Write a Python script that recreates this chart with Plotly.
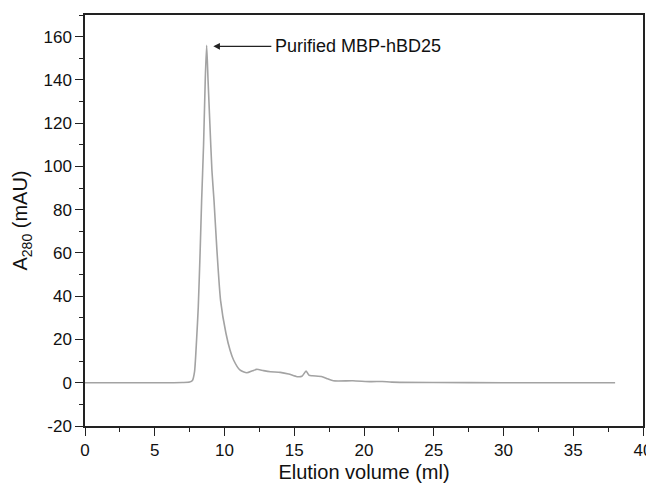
import plotly.graph_objects as go

# Elution volume (ml) and absorbance A280 (mAU)
volume = [0, 2, 4, 6, 7, 7.5, 7.7, 7.85, 8.0, 8.12, 8.25, 8.36, 8.5, 8.62, 8.72,
          8.82, 8.95, 9.1, 9.25, 9.45, 9.72, 10.1, 10.4, 10.65, 11.1, 11.6, 12.0,
          12.3, 12.8, 13.3, 14.0, 14.6, 15.2, 15.55, 15.85, 16.05, 16.3, 17.0,
          17.4, 17.8, 19.2, 20.5, 21.3, 22, 25, 30, 35, 38]
absorbance = [0, 0, 0, 0, 0.1, 0.3, 1, 5, 20, 35, 60, 84, 110, 140, 156,
              140, 120, 98, 84, 62, 38, 23, 15, 10.5, 5.9, 4.6, 5.5,
              6.2, 5.6, 5.1, 4.8, 4.0, 2.8, 3.0, 5.4, 3.5, 3.2, 2.8,
              1.8, 0.9, 0.9, 0.5, 0.6, 0.3, 0.1, 0, 0, 0]

peak_label = "Purified MBP-hBD25"
peak_x, peak_y = 9.2, 155.5
label_x = 13.5

x_ticks = [0, 5, 10, 15, 20, 25, 30, 35, 40]
y_ticks = [-20, 0, 20, 40, 60, 80, 100, 120, 140, 160]

font_family = "Liberation Sans, Arial, Helvetica, sans-serif"

fig = go.Figure()
fig.add_trace(go.Scatter(
    x=volume, y=absorbance, mode="lines",
    line=dict(color="#a3a3a3", width=1.6, shape="spline", smoothing=0.6),
    showlegend=False, hoverinfo="skip",
))

fig.add_annotation(
    x=peak_x, y=peak_y, ax=label_x, ay=peak_y,
    xref="x", yref="y", axref="x", ayref="y",
    text=peak_label, showarrow=True, xanchor="left",
    arrowhead=2, arrowsize=1.1, arrowwidth=1.2, arrowcolor="#222222",
    standoff=0, startstandoff=2,
    font=dict(family=font_family, size=18, color="#111111"),
)

axis_common = dict(
    showgrid=False, zeroline=False, showline=True, linecolor="#222222",
    linewidth=1.5, mirror=True, ticks="outside", ticklen=8, tickwidth=1.3,
    tickcolor="#222222", automargin=False, ticklabeloverflow="allow",
    tickfont=dict(family=font_family, size=17, color="#111111"),
)

fig.update_xaxes(
    range=[0, 40], tickvals=x_ticks, ticktext=[str(v) for v in x_ticks],
    minor=dict(ticks="outside", ticklen=4, dtick=2.5, tick0=0, tickcolor="#222222", tickwidth=1.2),
    title=dict(text="Elution volume (ml)", font=dict(family=font_family, size=20, color="#111111"), standoff=6),
    **axis_common,
)
fig.update_yaxes(
    range=[-20, 170], tickvals=y_ticks, ticktext=[str(v) for v in y_ticks],
    minor=dict(ticks="outside", ticklen=4, dtick=10, tick0=0, tickcolor="#222222", tickwidth=1.2),
    title=dict(text="A<sub>280</sub> (mAU)", font=dict(family=font_family, size=20, color="#111111"), standoff=10),
    **axis_common,
)

# the page body adds an 8px offset, so the figure is sized to fit inside it
fig.update_layout(
    width=646, height=481,
    margin=dict(l=77, r=11, t=7, b=63),
    paper_bgcolor="white", plot_bgcolor="white",
)

fig.write_html("out.html")
